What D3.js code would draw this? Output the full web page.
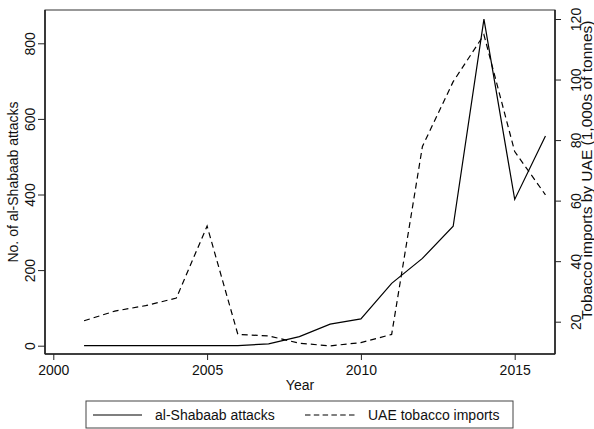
<!doctype html>
<html lang='en'>
<head>
    <meta charset='UTF-8'>
    <title>al-Shabaab attacks and UAE tobacco imports</title>
    <style>
        body { margin: 0; background: #fff; }
        svg text { font-family: 'Liberation Sans', Arial, Helvetica, sans-serif; fill: #111; }
        .axis path, .axis line { stroke: #222; }
        .axis text { font-size: 14px; }
    </style>
</head>
<body>
<script src='https://d3js.org/d3.v7.min.js'></script>
<script>
  const years = [2001, 2002, 2003, 2004, 2005, 2006, 2007, 2008, 2009, 2010, 2011, 2012, 2013, 2014, 2015, 2016]
  const attacks = [0, 0, 0, 0, 0, 0, 5, 24, 57, 71, 165, 231, 316, 864, 387, 555]
  const imports = [20.3, 23.5, 25.3, 27.8, 51.6, 15.8, 15.3, 12.9, 12.0, 13.1, 15.8, 77.9, 99.3, 114.8, 76.2, 61.9]
  const xTicks = [2000, 2005, 2010, 2015]
  const leftTicks = [0, 200, 400, 600, 800]
  const rightTicks = [20, 40, 60, 80, 100, 120]
  const seriesNames = ['al-Shabaab attacks', 'UAE tobacco imports']

  const w = 594
  const h = 429
  const frame = { left: 45, right: 555, top: 10, bottom: 354 }

  const x = d3.scaleLinear().domain([2000, 2015]).range([53.3, 514.7])
  const yL = d3.scaleLinear().domain([0, 800]).range([345.7, 43.3])
  const yR = d3.scaleLinear().domain([20, 120]).range([321.7, 19])

  const svg = d3.select('body')
    .append('svg')
    .attr('width', w)
    .attr('height', h)

  // plot region outline
  svg.append('rect')
    .attr('x', frame.left)
    .attr('y', frame.top)
    .attr('width', frame.right - frame.left)
    .attr('height', frame.bottom - frame.top)
    .attr('fill', 'none')
    .attr('stroke', '#333')
    .attr('stroke-width', 1)

  /******************** axes ******************/

  const xAxis = svg.append('g')
    .attr('class', 'axis')
    .attr('transform', `translate(0,${frame.bottom})`)
    .call(d3.axisBottom(x).tickValues(xTicks).tickFormat(d3.format('d')).tickSize(6).tickPadding(5))
  xAxis.select('.domain').attr('d', `M${frame.left},0H${frame.right}`).attr('stroke-width', 1.6)

  const leftAxis = svg.append('g')
    .attr('class', 'axis')
    .attr('transform', `translate(${frame.left},0)`)
    .call(d3.axisLeft(yL).tickValues(leftTicks).tickSize(7).tickPadding(0))
  leftAxis.select('.domain').attr('d', `M0,${frame.top}V${frame.bottom}`).attr('stroke-width', 1.6)
  leftAxis.selectAll('.tick text')
    .attr('x', null).attr('dy', null)
    .attr('text-anchor', 'middle')
    .attr('transform', 'translate(-10,0) rotate(-90)')

  const rightAxis = svg.append('g')
    .attr('class', 'axis')
    .attr('transform', `translate(${frame.right},0)`)
    .call(d3.axisRight(yR).tickValues(rightTicks).tickSize(6).tickPadding(0))
  rightAxis.select('.domain').attr('d', `M0,${frame.top}V${frame.bottom}`).attr('stroke-width', 1.6)
  rightAxis.selectAll('.tick text')
    .attr('x', null).attr('dy', null)
    .attr('text-anchor', 'middle')
    .attr('transform', 'translate(26,0) rotate(-90)')

  svg.selectAll('.axis .tick line').attr('stroke-width', 1)

  /******************** axis titles ******************/

  svg.append('text')
    .attr('transform', `translate(18,${(frame.top + frame.bottom) / 2}) rotate(-90)`)
    .attr('text-anchor', 'middle')
    .attr('font-size', '14px')
    .text('No. of al-Shabaab attacks')

  svg.append('text')
    .attr('transform', `translate(592,170) rotate(-90)`)
    .attr('text-anchor', 'middle')
    .attr('font-size', '15.5px')
    .text('Tobacco imports by UAE (1,000s of tonnes)')

  svg.append('text')
    .attr('x', 300)
    .attr('y', 390)
    .attr('text-anchor', 'middle')
    .attr('font-size', '14px')
    .text('Year')

  /******************** lines ******************/

  const attackLine = d3.line()
    .x((d, i) => x(years[i]))
    .y(d => yL(d))

  const importLine = d3.line()
    .x((d, i) => x(years[i]))
    .y(d => yR(d))

  svg.append('path')
    .datum(attacks)
    .attr('d', attackLine)
    .attr('fill', 'none')
    .attr('stroke', '#000')
    .attr('stroke-width', 1.2)

  svg.append('path')
    .datum(imports)
    .attr('d', importLine)
    .attr('fill', 'none')
    .attr('stroke', '#000')
    .attr('stroke-width', 1.2)
    .attr('stroke-dasharray', '6,4')

  /******************** legend ******************/

  const legend = svg.append('g')

  legend.append('rect')
    .attr('x', 86)
    .attr('y', 401)
    .attr('width', 427)
    .attr('height', 27)
    .attr('fill', '#fff')
    .attr('stroke', '#444')
    .attr('stroke-width', 1)

  const legendItems = [
    { x0: 93, x1: 142, tx: 155, dash: null },
    { x0: 305, x1: 356, tx: 368, dash: '5.5,3.3' }
  ]

  legend.selectAll('line')
    .data(legendItems)
    .enter()
    .append('line')
    .attr('x1', d => d.x0)
    .attr('x2', d => d.x1)
    .attr('y1', 415)
    .attr('y2', 415)
    .attr('stroke', '#000')
    .attr('stroke-width', 1.2)
    .attr('stroke-dasharray', d => d.dash)

  legend.selectAll('text')
    .data(legendItems)
    .enter()
    .append('text')
    .attr('x', d => d.tx)
    .attr('y', 420)
    .attr('font-size', '14px')
    .text((d, i) => seriesNames[i])
</script>
</body>
</html>
